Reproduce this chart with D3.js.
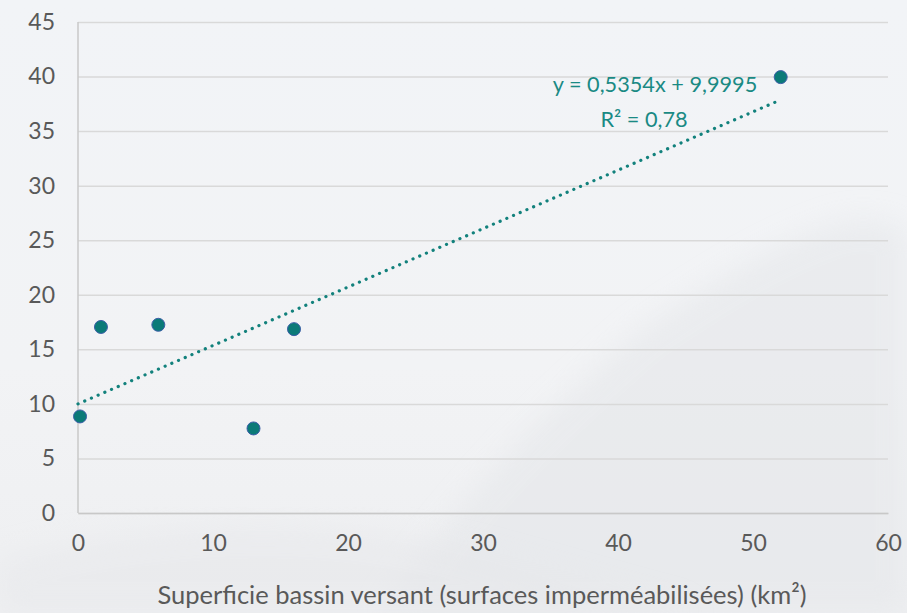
<!DOCTYPE html>
<html>
<head>
<meta charset="utf-8">
<script src="https://cdn.jsdelivr.net/npm/d3@7"></script>
<style>
  html, body { margin: 0; padding: 0; background: #f3f4f6; }
  svg { display: block; }
</style>
</head>
<body>
<svg id="chart" width="907" height="613"></svg>
<script>
// Surface of the catchment (km²) vs. measured value
const surfaces = [0.15, 1.7, 5.95, 13.0, 16.0, 52.05];
const values   = [8.85, 17.05, 17.25, 7.75, 16.85, 39.95];

// Linear trend line shown on the chart
const slope = 0.5354;
const intercept = 9.9995;
const trendRange = [0, 52.05];
const equationLabel = "y = 0,5354x + 9,9995";
const r2Label = "R² = 0,78";

const xTicks = [0, 10, 20, 30, 40, 50, 60];
const yTicks = [0, 5, 10, 15, 20, 25, 30, 35, 40, 45];
const xTitle = "Superficie bassin versant (surfaces imperméabilisées) (km²)";

const W = 907, H = 613;
const margin = { left: 78, right: 19, top: 22, bottom: 100 };
const FONT = "Lato, 'Open Sans', sans-serif";
const svg = d3.select("#chart");

// Soft background with faint hills
const defs = svg.append("defs");
const bg = defs.append("linearGradient").attr("id", "bg").attr("x1", 0).attr("y1", 0).attr("x2", 0).attr("y2", 1);
bg.append("stop").attr("offset", "0%").attr("stop-color", "#f2f4f7");
bg.append("stop").attr("offset", "60%").attr("stop-color", "#f2f3f5");
bg.append("stop").attr("offset", "100%").attr("stop-color", "#eeeff1");
svg.append("rect").attr("width", W).attr("height", H).attr("fill", "url(#bg)");
const haze = defs.append("filter").attr("id", "haze").attr("x", "-20%").attr("y", "-20%").attr("width", "140%").attr("height", "140%");
haze.append("feGaussianBlur").attr("stdDeviation", 14);
svg.append("path")
  .attr("d", "M380,613 C480,470 560,400 640,330 C700,290 760,250 830,225 C860,215 890,220 907,230 L907,613 Z")
  .attr("fill", "#e4e6e9").attr("opacity", 0.55).attr("filter", "url(#haze)");
svg.append("path")
  .attr("d", "M0,560 C150,520 300,515 420,540 C520,560 600,590 700,613 L0,613 Z")
  .attr("fill", "#e6e7ea").attr("opacity", 0.5).attr("filter", "url(#haze)");

const x = d3.scaleLinear().domain([0, 60]).range([margin.left, W - margin.right]);
const y = d3.scaleLinear().domain([0, 45]).range([H - margin.bottom, margin.top]);

// Horizontal gridlines
const yAxis = d3.axisLeft(y).tickValues(yTicks).tickSize(-(x(60) - x(0))).tickPadding(23).tickFormat(d3.format("d"));
const gy = svg.append("g").attr("transform", `translate(${x(0)},0)`).call(yAxis);
gy.select(".domain").remove();
gy.selectAll(".tick line").attr("stroke", "#d9d9d9").attr("stroke-width", 1.5);
gy.selectAll(".tick text")
  .attr("fill", "#595959").attr("font-family", FONT).attr("font-size", 23);

// Vertical axis line
svg.append("line")
  .attr("x1", x(0)).attr("x2", x(0)).attr("y1", y(0)).attr("y2", y(45))
  .attr("stroke", "#c8c8c8").attr("stroke-width", 1.5);

// X axis labels
const xAxis = d3.axisBottom(x).tickValues(xTicks).tickSize(0).tickPadding(22).tickFormat(d3.format("d"));
const gx = svg.append("g").attr("transform", `translate(0,${y(0)})`).call(xAxis);
gx.select(".domain").attr("stroke", "#c8c8c8").attr("stroke-width", 1.5);
gx.selectAll(".tick text")
  .attr("fill", "#595959").attr("font-family", FONT).attr("font-size", 23);

// Axis title
svg.append("text")
  .attr("x", 482).attr("y", 604)
  .attr("text-anchor", "middle")
  .attr("fill", "#595959").attr("font-family", FONT).attr("font-size", 25.5)
  .text(xTitle);

// Dotted trend line
svg.append("line")
  .attr("x1", x(trendRange[0])).attr("y1", y(slope * trendRange[0] + intercept))
  .attr("x2", x(trendRange[1])).attr("y2", y(slope * trendRange[1] + intercept))
  .attr("stroke", "#12817c").attr("stroke-width", 3.2)
  .attr("stroke-linecap", "round").attr("stroke-dasharray", "0.1 7.2");

// Data points
svg.append("g").selectAll("circle")
  .data(surfaces.map((s, i) => ({ s, v: values[i] })))
  .join("circle")
  .attr("cx", d => x(d.s)).attr("cy", d => y(d.v)).attr("r", 6.5)
  .attr("fill", "#0b7a78").attr("stroke", "#3c5fa8").attr("stroke-width", 1);

// Equation labels
const eq = svg.append("g")
  .attr("fill", "#1a8a84").attr("font-family", FONT).attr("font-size", 21.7)
  .attr("text-anchor", "middle");
eq.append("text").attr("x", 655).attr("y", 92).text(equationLabel);
eq.append("text").attr("x", 644).attr("y", 127).text(r2Label);
</script>
</body>
</html>
